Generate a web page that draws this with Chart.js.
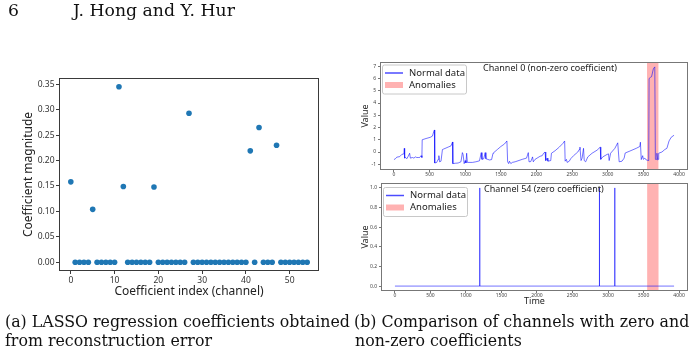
<!DOCTYPE html>
<html><head><meta charset="utf-8">
<script src="https://cdn.jsdelivr.net/npm/chart.js@4/dist/chart.umd.min.js"></script>
<style>
html,body{margin:0;padding:0;background:#fff;}
body{width:699px;height:356px;position:relative;overflow:hidden;}
canvas{position:absolute;}
#c1{left:0;top:60px;}
#c2{left:350px;top:55px;}
#c3{left:350px;top:178px;}
svg{position:absolute;left:0;top:0;}
</style></head><body>
<canvas id="c1" width="340" height="250"></canvas>
<canvas id="c2" width="349" height="123"></canvas>
<canvas id="c3" width="349" height="130"></canvas>
<svg width="699" height="356" font-family="DejaVu Serif" fill="#111">
<text id="hn" x="8" y="16" font-size="16">6</text>
<text id="ht" x="73" y="16" font-size="16">J. Hong and Y. Hur</text>
<text class="cap" id="capA" x="5" y="327" font-size="14">(a) LASSO regression coefficients obtained</text>
<text class="cap" id="capB" x="354" y="327" font-size="14">(b) Comparison of channels with zero and</text>
<text class="cap" x="5" y="346" font-size="14">from reconstruction error</text>
<text class="cap" x="355" y="346" font-size="14">non-zero coefficients</text>
</svg>
<script>
// ---- (a) LASSO coefficients ----
const coefIndex = [0,1,2,3,4,5,6,7,8,9,10,11,12,13,14,15,16,17,18,19,20,21,22,23,24,25,26,27,28,29,30,31,32,33,34,35,36,37,38,39,40,41,42,43,44,45,46,47,48,49,50,51,52,53,54];
const coefMagnitude = [0.158,0,0,0,0,0.104,0,0,0,0,0,0.345,0.149,0,0,0,0,0,0,0.148,0,0,0,0,0,0,0,0.293,0,0,0,0,0,0,0,0,0,0,0,0,0,0.219,0,0.265,0,0,0,0.230,0,0,0,0,0,0,0];
const coefXTicks = [0,10,20,30,40,50];
const coefYTicks = [0,0.05,0.10,0.15,0.20,0.25,0.30,0.35];

// ---- (b) Channel 0 ----
const ch0Time = [0,20,40,80,110,140,145,150,165,180,200,220,230,260,280,300,320,340,360,380,392,396,450,510,540,560,568,572,600,620,630,640,660,680,700,760,800,822,826,860,900,940,960,970,985,1000,1010,1020,1030,1100,1150,1200,1225,1235,1260,1280,1290,1340,1370,1390,1400,1450,1500,1550,1585,1595,1610,1620,1640,1660,1700,1800,1860,1885,1895,1920,1945,1955,1980,2050,2080,2100,2120,2130,2150,2160,2200,2210,2260,2320,2370,2395,2402,2420,2430,2460,2480,2520,2580,2600,2610,2625,2640,2660,2670,2690,2720,2780,2850,2895,2902,2930,2990,3010,3020,3040,3100,3140,3160,3200,3230,3245,3300,3400,3450,3458,3470,3490,3500,3520,3540,3575,3580,3600,3615,3640,3660,3668,3680,3690,3700,3710,3715,3760,3800,3830,3860,3890,3930];
const ch0Value = [-0.62,-0.55,-0.42,-0.38,-0.2,-0.15,0.3,-0.5,-0.45,-0.55,-0.35,-0.1,-0.5,-0.45,-0.5,-0.4,-0.45,-0.45,-0.45,-0.3,-0.45,1.0,1.1,1.2,1.3,1.7,1.8,-0.9,-0.85,-0.6,-0.3,-0.8,-0.75,0.2,0.25,0.4,0.5,0.82,-0.95,-0.92,-0.9,-0.8,-0.05,-0.2,-0.95,-0.7,-0.9,-0.1,-0.85,-0.85,-0.8,-0.72,-0.05,-0.6,-0.55,-0.05,-0.55,-0.65,-0.62,-0.1,-0.05,0.2,0.45,0.65,0.9,-0.8,-0.95,-0.75,-0.95,-0.85,-0.8,-0.6,-0.5,-0.05,-0.8,-0.78,-0.4,-0.8,-0.6,-0.35,-0.3,-0.1,0.0,-0.7,-0.5,-0.75,-0.7,-0.1,0.1,0.4,0.7,0.9,-0.75,-0.6,-0.85,-0.75,-0.55,-0.3,0.0,0.2,0.4,-0.7,-0.5,0.3,-0.7,-0.8,-0.4,-0.1,0.15,0.4,-0.6,-0.4,-0.2,-0.15,-0.7,-0.1,0.3,0.75,-0.8,-0.75,-0.5,-0.08,0.05,0.3,0.45,0.8,-0.62,-0.3,-0.6,-0.5,-0.65,-0.7,6.0,6.1,6.15,6.8,6.95,-0.6,-0.6,-0.1,-0.65,-0.6,-0.1,0.0,0.2,0.3,0.9,1.2,1.37];

// ---- (b) Channel 54 ----
const ch54Time = [0,1193,1194,1195,2878,2879,2880,3094,3095,3096,3930];
const ch54Value = [0,0,1,0,0,1,0,0,1,0,0];

const anomalyStart = [3551];
const anomalyEnd = [3711];
const timeTicks = [0,500,1000,1500,2000,2500,3000,3500,4000];
const ch0YTicks = [-1,0,1,2,3,4,5,6,7];
const ch54YTicks = [0,0.2,0.4,0.6,0.8,1.0];
const legendLabels = ['Normal data','Anomalies'];
const panelTitles = ['Channel 0 (non-zero coefficient)','Channel 54 (zero coefficient)'];

// fit serif text sizes to the reference widths
(function fitText(){
  const capA = document.getElementById('capA');
  const w = capA.getComputedTextLength();
  const fs = 14 * 345 / w;
  document.querySelectorAll('.cap').forEach(t => t.setAttribute('font-size', fs.toFixed(2)));
  const ht = document.getElementById('ht');
  const hw = ht.getComputedTextLength();
  const hfs = 16 * 162 / hw;
  ht.setAttribute('font-size', hfs.toFixed(2));
  document.getElementById('hn').setAttribute('font-size', hfs.toFixed(2));
})();

const FONT = 'Noto Sans';
const LINE_COLOR = 'rgba(0,0,255,0.55)';
const BAND_COLOR = 'rgba(255,0,0,0.3)';

function setTicks(arr){ return s => { s.ticks = arr.map(v => ({value: v})); }; }

const framePlugin = {
  id: 'frame',
  afterDatasetsDraw(chart, args, opts) {
    const {ctx, chartArea: a} = chart;
    ctx.save();
    ctx.strokeStyle = opts.color || '#444';
    ctx.lineWidth = 1;
    ctx.strokeRect(Math.round(a.left) + 0.5, Math.round(a.top) + 0.5, Math.round(a.right - a.left) - 1, Math.round(a.bottom - a.top) - 1);
    ctx.restore();
  }
};

const bandPlugin = {
  id: 'band',
  beforeDatasetsDraw(chart, args, opts) {
    if (!opts.starts) return;
    const {ctx, chartArea: a, scales: {x}} = chart;
    ctx.save();
    ctx.fillStyle = BAND_COLOR;
    opts.starts.forEach((s, i) => {
      const x1 = x.getPixelForValue(s), x2 = x.getPixelForValue(opts.ends[i]);
      ctx.fillRect(x1, a.top, x2 - x1, a.bottom - a.top);
    });
    ctx.restore();
  }
};

const panelPlugin = {
  id: 'panel',
  afterDatasetsDraw(chart, args, opts) {
    if (!opts.title) return;
    const {ctx, chartArea: a} = chart;
    ctx.save();
    ctx.font = '9px "' + FONT + '"';
    ctx.fillStyle = '#222';
    ctx.textBaseline = 'middle';
    ctx.textAlign = 'left';
    ctx.fillText(opts.title, a.left + 103, a.top + 6.5);
    // legend
    const bx = a.left + 2, by = a.top + opts.legendTop, bw = 84, bh = 29;
    ctx.fillStyle = 'rgba(255,255,255,0.85)';
    ctx.strokeStyle = '#c8c8c8';
    ctx.lineWidth = 1;
    ctx.beginPath();
    if (ctx.roundRect) ctx.roundRect(bx + 0.5, by + 0.5, bw, bh, 2); else ctx.rect(bx + 0.5, by + 0.5, bw, bh);
    ctx.fill(); ctx.stroke();
    const r1 = by + 8.5, r2 = by + 20.5;
    ctx.strokeStyle = 'rgba(0,0,255,0.7)';
    ctx.lineWidth = 1.5;
    ctx.beginPath(); ctx.moveTo(bx + 3, r1); ctx.lineTo(bx + 21, r1); ctx.stroke();
    ctx.fillStyle = BAND_COLOR;
    ctx.fillRect(bx + 3, r2 - 3, 18, 6);
    ctx.fillStyle = '#222';
    ctx.font = '9.5px "' + FONT + '"';
    ctx.fillText(legendLabels[0], bx + 27, r1);
    ctx.fillText(legendLabels[1], bx + 27, r2);
    ctx.restore();
  }
};

// ---------- Chart (a) ----------
new Chart(document.getElementById('c1'), {
  type: 'scatter',
  data: { datasets: [{
    data: coefIndex.map((x, i) => ({x: x, y: coefMagnitude[i]})),
    backgroundColor: '#1f77b4', borderColor: '#1f77b4', borderWidth: 0,
    pointRadius: 2.8, pointHoverRadius: 2.8
  }]},
  options: {
    responsive: false, animation: false, events: [],
    layout: { padding: {left: 0, top: 18, right: 21, bottom: 8} },
    plugins: { legend: {display: false}, tooltip: {enabled: false}, frame: {color: '#3a3a3a'} },
    scales: {
      x: {
        type: 'linear', min: -2.7, max: 56.7,
        afterBuildTicks: setTicks(coefXTicks),
        afterFit: s => { s.height = 31; },
        grid: {display: true, drawOnChartArea: false, drawTicks: true, tickLength: 3, color: '#3a3a3a'},
        border: {display: false},
        ticks: {font: {size: 8.5, family: FONT}, color: '#333', padding: 1, maxRotation: 0, autoSkip: false, callback: v => String(v)},
        title: {display: true, text: 'Coefficient index (channel)', font: {size: 12, family: FONT}, color: '#222', padding: {top: 0, bottom: 3}}
      },
      y: {
        type: 'linear', min: -0.0173, max: 0.3623,
        afterBuildTicks: setTicks(coefYTicks),
        afterFit: s => { s.width = 59; },
        grid: {display: true, drawOnChartArea: false, drawTicks: true, tickLength: 3, color: '#3a3a3a'},
        border: {display: false},
        ticks: {font: {size: 8.5, family: FONT}, color: '#333', padding: 1.5, autoSkip: false, callback: v => Number(v).toFixed(2)},
        title: {display: true, text: 'Coefficient magnitude', font: {size: 12, family: FONT}, color: '#222', padding: {top: 21, bottom: 0}}
      }
    }
  },
  plugins: [framePlugin]
});

function timeChart(id, times, values, yTicks, yMin, yMax, title, xTitle, cfg) {
  return new Chart(document.getElementById(id), {
    type: 'line',
    data: { datasets: [{
      label: legendLabels[0],
      data: times.map((t, i) => ({x: t, y: values[i]})),
      borderColor: LINE_COLOR, borderWidth: 1, pointRadius: 0, tension: 0, fill: false
    }]},
    options: {
      responsive: false, animation: false, events: [],
      layout: { padding: {left: 0, top: cfg.top, right: 11, bottom: 0} },
      plugins: {
        legend: {display: false}, tooltip: {enabled: false},
        frame: {color: '#777'},
        band: {starts: anomalyStart, ends: anomalyEnd},
        panel: {title: title, legendTop: cfg.legendTop}
      },
      scales: {
        x: {
          type: 'linear', min: -196, max: 4126,
          afterBuildTicks: setTicks(timeTicks),
          afterFit: s => { s.height = cfg.xh; },
          grid: {display: true, drawOnChartArea: false, drawTicks: true, tickLength: 2, color: '#777'},
          border: {display: false},
          ticks: {font: {size: 5, family: FONT}, color: '#444', padding: 0, maxRotation: 0, autoSkip: false, callback: v => String(v)},
          title: {display: !!xTitle, text: xTitle, font: {size: 9, family: FONT}, color: '#222', padding: {top: 0, bottom: 1}}
        },
        y: {
          type: 'linear', min: yMin, max: yMax,
          afterBuildTicks: setTicks(yTicks),
          afterFit: s => { s.width = cfg.yw; },
          grid: {display: true, drawOnChartArea: false, drawTicks: true, tickLength: 2, color: '#777'},
          border: {display: false},
          ticks: {font: {size: 5, family: FONT}, color: '#444', padding: 2, autoSkip: false, callback: cfg.fmt},
          title: {display: true, text: 'Value', font: {size: 9, family: FONT}, color: '#222', padding: {top: 9.6, bottom: 0}}
        }
      }
    },
    plugins: [bandPlugin, framePlugin, panelPlugin]
  });
}

timeChart('c2', ch0Time, ch0Value, ch0YTicks, -1.47, 7.35, panelTitles[0], '',
  {top: 7, xh: 8, yw: 30, legendTop: 2.5, fmt: v => String(v)});
timeChart('c3', ch54Time, ch54Value, ch54YTicks, -0.05, 1.05, panelTitles[1], 'Time',
  {top: 5, xh: 17, yw: 31, legendTop: 4, fmt: v => Number(v).toFixed(1)});
</script>
</body></html>
